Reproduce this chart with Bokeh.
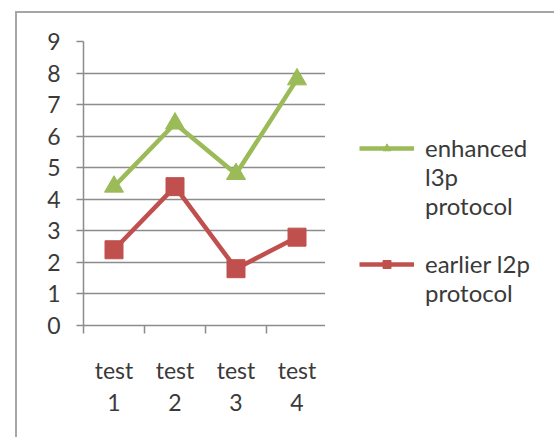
from bokeh.plotting import figure
from bokeh.layouts import row
from bokeh.models import (FactorRange, Range1d, LinearAxis, CategoricalAxis, FixedTicker,
                          Legend, LegendItem, CustomJSTickFormatter)
from bokeh.embed import file_html
from bokeh.resources import INLINE

categories = ["test 1", "test 2", "test 3", "test 4"]
enhanced_l3p = [4.4, 6.4, 4.8, 7.8]
earlier_l2p = [2.4, 4.4, 1.8, 2.8]
y_ticks = [0, 1, 2, 3, 4, 5, 6, 7, 8, 9]
# wrapped legend texts (leading blank lines keep the glyph on the first text line)
series_names = ["\n\nenhanced\nl3p\nprotocol", "\nearlier l2p\nprotocol"]

GREEN = "#9BBB59"
RED = "#C0504D"
GRID = "#8c8c8c"
TEXT = "#3a3a3a"
BORDER = "2px solid #a6a6a6"
FONT = "Lato"
FS = "23px"

p = figure(width=310, height=426, x_range=FactorRange(*categories, range_padding=0),
           y_range=Range1d(0, 9), output_backend="svg", toolbar_location=None,
           x_axis_location=None, y_axis_location=None,
           min_border_left=66, min_border_right=0, min_border_top=28, min_border_bottom=114)
p.styles = {"margin-left": "15px", "margin-top": "11px", "border-left": BORDER, "border-top": BORDER}
p.outline_line_color = None
p.xgrid.visible = False
p.ygrid.ticker = FixedTicker(ticks=y_ticks)
p.ygrid.grid_line_color = GRID
p.ygrid.grid_line_width = 1.5

yax = LinearAxis(ticker=FixedTicker(ticks=y_ticks))
yax.axis_line_color = GRID
yax.axis_line_width = 1.5
yax.major_tick_line_color = GRID
yax.major_tick_line_width = 1.5
yax.major_tick_out = 7
yax.major_tick_in = 0
yax.minor_tick_line_color = None
yax.major_label_text_font = FONT
yax.major_label_text_font_size = FS
yax.major_label_text_color = TEXT
yax.major_label_standoff = 16
p.add_layout(yax, "left")

# boundary ticks between the category slots (synthetic positions 0..n)
xtick = CategoricalAxis(ticker=FixedTicker(ticks=list(range(len(categories) + 1))))
xtick.axis_line_color = GRID
xtick.axis_line_width = 1.5
xtick.major_tick_line_color = GRID
xtick.major_tick_line_width = 1.5
xtick.major_tick_out = 8
xtick.major_tick_in = 0
xtick.major_label_text_font_size = "1px"
xtick.major_label_text_alpha = 0
xtick.major_label_standoff = 0
p.add_layout(xtick, "below")

xlab = CategoricalAxis()
xlab.formatter = CustomJSTickFormatter(code="return tick.replace(' ', '\\n');")
xlab.axis_line_color = None
xlab.major_tick_line_color = None
xlab.major_label_text_font = FONT
xlab.major_label_text_font_size = FS
xlab.major_label_text_color = TEXT
xlab.major_label_text_line_height = 1.17
xlab.major_label_standoff = 16
p.add_layout(xlab, "below")

p.line(categories, enhanced_l3p, line_color=GREEN, line_width=4.5)
p.scatter(categories, enhanced_l3p, marker="triangle", size=19, fill_color=GREEN, line_color=GREEN)
p.line(categories, earlier_l2p, line_color=RED, line_width=4.5)
p.scatter(categories, earlier_l2p, marker="square", size=18, fill_color=RED, line_color=RED)

# legend panel to the right; its renderers carry the same series but lie outside its view
lg = figure(width=229, height=426, x_range=FactorRange(*categories), y_range=Range1d(20, 21),
            output_backend="svg", toolbar_location=None,
            x_axis_location=None, y_axis_location=None,
            min_border_left=0, min_border_right=0, min_border_top=0, min_border_bottom=0)
lg.styles = {"margin-top": "11px", "border-top": BORDER}
lg.outline_line_color = None
lg.grid.visible = False
gl = lg.line(categories, enhanced_l3p, line_color=GREEN, line_width=4.5)
gm = lg.scatter(categories, enhanced_l3p, marker="triangle", size=19, fill_color=GREEN, line_color=GREEN)
rl = lg.line(categories, earlier_l2p, line_color=RED, line_width=4.5)
rm = lg.scatter(categories, earlier_l2p, marker="square", size=18, fill_color=RED, line_color=RED)

legend = Legend(items=[LegendItem(label=series_names[0], renderers=[gl, gm]),
                       LegendItem(label=series_names[1], renderers=[rl, rm])],
                location="top_left")
legend.border_line_color = None
legend.background_fill_alpha = 0
legend.glyph_width = 55
legend.glyph_height = 20
legend.label_standoff = 11
legend.label_text_font = FONT
legend.label_text_font_size = "24px"
legend.label_text_color = TEXT
legend.label_text_line_height = 1.3
legend.spacing = -32
legend.padding = 0
legend.margin = 34
lg.add_layout(legend)

layout = row(p, lg)
open("out.html", "w").write(file_html(layout, INLINE))
